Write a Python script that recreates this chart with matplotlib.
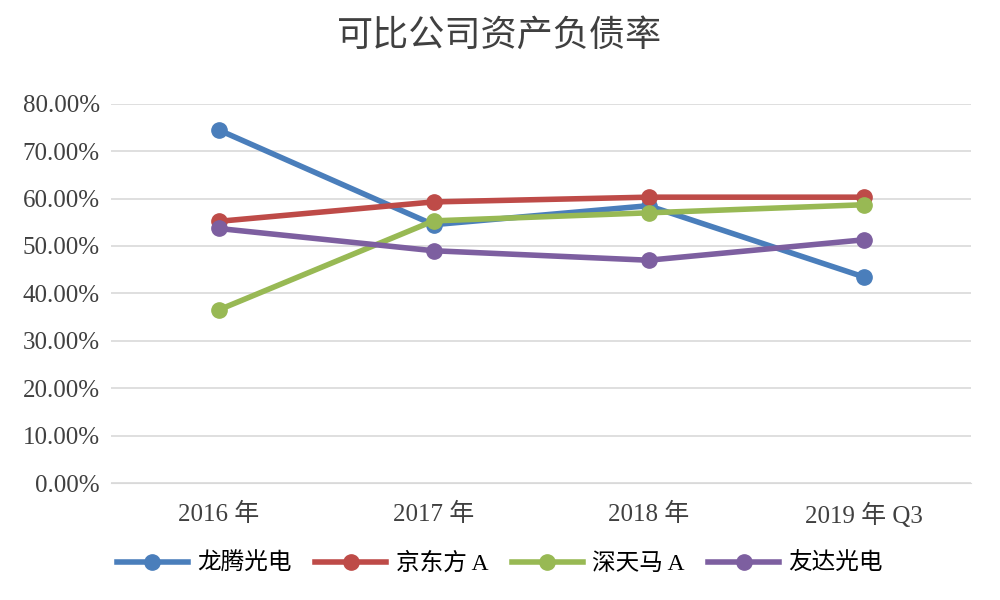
import matplotlib
matplotlib.use('Agg')
import matplotlib.pyplot as plt
from matplotlib.ticker import FuncFormatter

plt.rcParams['font.family'] = ['Liberation Serif', 'Noto Sans CJK SC']

categories = ['2016 年', '2017 年', '2018 年', '2019 年 Q3']
longteng = [0.745, 0.545, 0.585, 0.435]
boe = [0.552, 0.593, 0.603, 0.603]
tianma = [0.365, 0.553, 0.570, 0.587]
auo = [0.537, 0.490, 0.470, 0.513]

series = [('龙腾光电', longteng, '#4a7ebb'),
          ('京东方 A', boe, '#be4b48'),
          ('深天马 A', tianma, '#98b954'),
          ('友达光电', auo, '#7d5fa0')]

fig = plt.figure(figsize=(10, 6), dpi=100)
ax = fig.add_axes([0.111, 0.195, 0.86, 0.632])
x = list(range(len(categories)))
for name, vals, color in series:
    ax.plot(x, vals, color=color, lw=4, marker='o', ms=11, label=name)

ax.set_xlim(-0.5, 3.5)
ax.set_ylim(0, 0.8)
ax.set_yticks([i / 10 for i in range(9)])
ax.yaxis.set_major_formatter(FuncFormatter(lambda v, p: '%.2f%%' % (v * 100)))
ax.set_xticks(x)
ax.set_xticklabels(categories)
ax.tick_params(axis='both', length=0, labelsize=18, colors='#404040', pad=8)
ax.tick_params(axis='x', pad=14)
ax.grid(axis='y', color='#d9d9d9', lw=1.2)
ax.set_axisbelow(True)
for s in ['top', 'right', 'left']:
    ax.spines[s].set_visible(False)
ax.spines['bottom'].set_color('#d9d9d9')

fig.text(0.5, 0.94, '可比公司资产负债率', ha='center', va='center', fontsize=26,
         color='#404040', family=['Noto Sans CJK SC'])
fig.legend(loc='center', bbox_to_anchor=(0.5, 0.06), ncol=4, frameon=False,
           handlelength=3.0, columnspacing=1.0, handletextpad=0.4,
           prop={'family': ['Liberation Serif', 'Noto Sans CJK SC'], 'size': 17})
fig.savefig('out.png', dpi=100)
